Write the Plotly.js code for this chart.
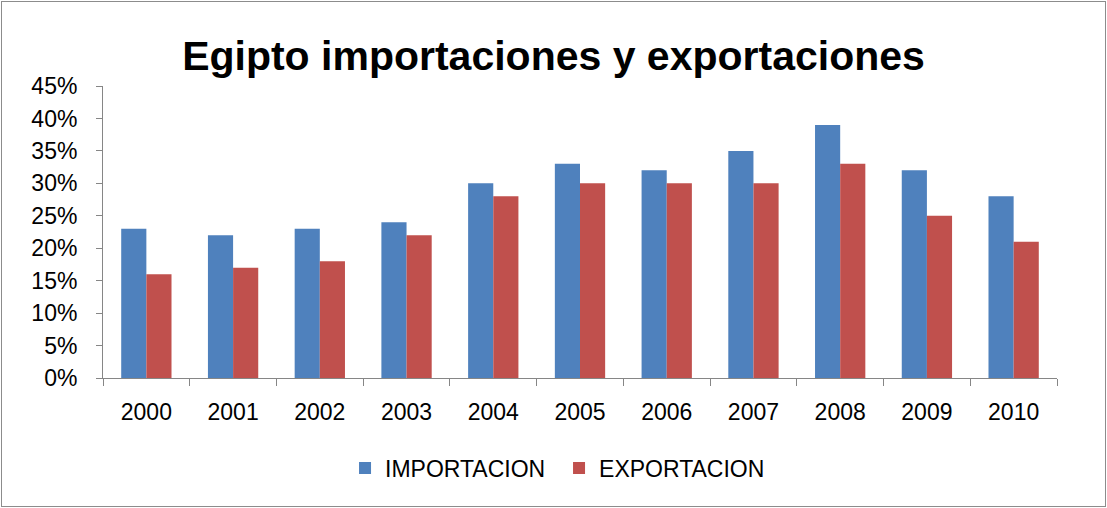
<!DOCTYPE html>
<html>
<head>
<meta charset="utf-8">
<script src="https://cdn.plot.ly/plotly-3.0.1.min.js"></script>
<style>
html,body{margin:0;padding:0;background:#fff;}
#wrap{position:relative;width:1107px;height:508px;}
#chart{position:absolute;left:0;top:0;width:1107px;height:508px;}
#frame{position:absolute;left:1px;top:1px;width:1103px;height:504px;border:1px solid #8c8c8c;pointer-events:none;}
</style>
</head>
<body>
<div id="wrap"><div id="chart"></div><div id="frame"></div></div>
<script>
const years = ['2000','2001','2002','2003','2004','2005','2006','2007','2008','2009','2010'];
const importacion = [0.23,0.22,0.23,0.24,0.30,0.33,0.32,0.35,0.39,0.32,0.28];
const exportacion = [0.16,0.17,0.18,0.22,0.28,0.30,0.30,0.30,0.33,0.25,0.21];
const seriesNames = ['IMPORTACION','EXPORTACION'];
const titleText = 'Egipto importaciones y exportaciones';

const font = 'Liberation Sans, Arial, sans-serif';
const traces = [
  {type:'bar', name:seriesNames[0], x:years, y:importacion, marker:{color:'#4F81BD'}},
  {type:'bar', name:seriesNames[1], x:years, y:exportacion, marker:{color:'#C0504D'}}
];
const layout = {
  width:1107, height:508,
  margin:{l:103, r:50, t:86, b:130},
  paper_bgcolor:'#ffffff', plot_bgcolor:'#ffffff',
  font:{family:font, color:'#000'},
  title:{text:'<b>'+titleText+'</b>', font:{family:font, size:41, color:'#000'},
         x:0.5, xanchor:'center', xref:'container', y:1-56/508, yref:'container', yanchor:'middle'},
  barmode:'group', bargap:0.42, bargroupgap:0,
  showlegend:true,
  legend:{orientation:'h', x:0.505, xanchor:'center', xref:'container', y:1-468/508, yref:'container', yanchor:'middle',
          font:{family:font, size:23, color:'#000'}, itemwidth:30, entrywidth:169, entrywidthmode:'pixels', tracegroupgap:0},
  xaxis:{type:'category', showline:true, linecolor:'#868686', linewidth:1, ticks:'outside', tickson:'boundaries',
         ticklen:7, tickcolor:'#868686', tickfont:{family:font, size:23, color:'#000'}, showgrid:false, zeroline:false,
         ticklabelstandoff:13},
  yaxis:{range:[0,0.45], dtick:0.05, tickformat:'.0%', showline:true, linecolor:'#868686', linewidth:1,
         ticks:'outside', ticklen:6, tickcolor:'#868686', showgrid:false, zeroline:false,
         tickfont:{family:font, size:23, color:'#000'}, ticklabelstandoff:14}
};
Plotly.newPlot('chart', traces, layout, {displayModeBar:false, staticPlot:true});
</script>
</body>
</html>
